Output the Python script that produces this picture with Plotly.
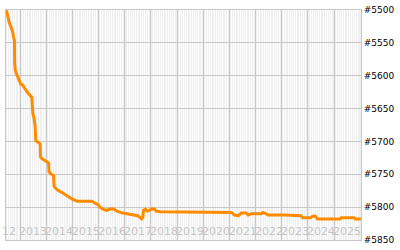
import plotly.graph_objects as go

dates = [
    "2012-06-16", "2012-07-07", "2012-07-28", "2012-08-24", "2012-09-14", "2012-09-28",
    "2012-10-12", "2012-10-15", "2012-10-23", "2012-11-13", "2012-12-09", "2012-12-27",
    "2013-01-10", "2013-02-03", "2013-03-04", "2013-04-03", "2013-05-11", "2013-06-12",
    "2013-06-26", "2013-07-09", "2013-07-27", "2013-07-30", "2013-08-06", "2013-09-16",
    "2013-10-07", "2013-10-10", "2013-10-28", "2013-11-24", "2014-01-18", "2014-02-01",
    "2014-02-08", "2014-02-28", "2014-04-11", "2014-04-18", "2014-05-08", "2014-06-19",
    "2014-08-13", "2014-10-21", "2014-12-01", "2014-12-29", "2015-03-08", "2015-10-01",
    "2015-11-11", "2015-12-22", "2016-01-19", "2016-02-29", "2016-04-24", "2016-06-05",
    "2016-07-30", "2016-09-10", "2016-12-02", "2017-02-10", "2017-04-20", "2017-06-28",
    "2017-07-25", "2017-08-22", "2017-09-11", "2017-09-18", "2017-10-16", "2017-11-12",
    "2017-12-10", "2018-01-07", "2018-02-17", "2018-03-16", "2018-04-27", "2019-10-31",
    "2021-01-30", "2021-03-11", "2021-05-05", "2021-06-16", "2021-08-24", "2021-09-21",
    "2021-11-01", "2022-03-19", "2022-04-16", "2022-05-27", "2022-06-24", "2023-02-14",
    "2023-09-22", "2023-10-20", "2024-02-08", "2024-03-06", "2024-04-16", "2024-05-14",
    "2025-03-28", "2025-04-11", "2025-10-08", "2025-10-22", "2026-01-12",
]
ranks = [
    5500, 5507, 5518, 5525, 5532, 5540,
    5547, 5581, 5592, 5598, 5605, 5610,
    5613, 5614, 5620, 5624, 5629, 5633,
    5658, 5663, 5676, 5698, 5699, 5702,
    5704, 5723, 5726, 5728, 5731, 5733,
    5746, 5749, 5752, 5768, 5771, 5775,
    5778, 5783, 5786, 5788, 5791, 5791,
    5794, 5796, 5800, 5803, 5805, 5803,
    5803, 5806, 5809, 5810, 5812, 5813,
    5815, 5818, 5815, 5805, 5803, 5806,
    5805, 5803, 5803, 5806, 5807, 5808,
    5808, 5812, 5813, 5809, 5809, 5812,
    5810, 5810, 5808, 5810, 5812, 5812,
    5813, 5816, 5816, 5814, 5814, 5818,
    5818, 5816, 5816, 5818, 5818,
]
year_labels = ["2013", "2014", "2015", "2016", "2017", "2018", "2019",
               "2020", "2021", "2022", "2023", "2024", "2025"]
rank_ticks = [5500, 5550, 5600, 5650, 5700, 5750, 5800, 5850]
rank_tick_text = ["#5500", "#5550", "#5600", "#5650", "#5700", "#5750", "#5800", "#5850"]
x_range = ["2012-06-16", "2026-01-12"]

GRID = "#c8c8c8"

fig = go.Figure()
fig.add_trace(go.Scatter(
    x=dates, y=ranks, mode="lines",
    line=dict(color="#ff8c00", width=3),
    hoverinfo="skip", showlegend=False,
))

annotations = []
for yl in year_labels:
    annotations.append(dict(
        x=f"{yl}-07-02", y=0, xref="x", yref="paper",
        xanchor="center", yanchor="bottom", showarrow=False,
        text=yl, font=dict(family="DejaVu Sans", size=11, color="#c4c4c4"),
    ))
annotations.append(dict(
    x=f"{year_labels[0]}-01-01", y=0, xref="x", yref="paper",
    xanchor="right", yanchor="bottom", showarrow=False, xshift=-2,
    text="12", font=dict(family="DejaVu Sans", size=11, color="#c4c4c4"),
))

fig.update_layout(
    width=400, height=250,
    margin=dict(l=5, r=36, t=5, b=6),
    paper_bgcolor="white", plot_bgcolor="#efefef",
    annotations=annotations,
    xaxis=dict(
        type="date", range=x_range,
        dtick="M12", tick0="2013-01-01",
        showticklabels=False, ticks="",
        showgrid=True, gridcolor=GRID, gridwidth=1,
        minor=dict(dtick="M1", tick0="2013-01-01", showgrid=True,
                   gridcolor="white", gridwidth=1),
        showline=True, linecolor=GRID, linewidth=1, mirror=True,
        zeroline=False, fixedrange=True,
    ),
    yaxis=dict(
        range=[5850, 5500], side="right",
        tickmode="array", tickvals=rank_ticks, ticktext=rank_tick_text,
        tickfont=dict(family="DejaVu Sans", size=9, color="black"),
        ticks="", showgrid=True, gridcolor=GRID, gridwidth=1,
        showline=True, linecolor=GRID, linewidth=1, mirror=True,
        zeroline=False, fixedrange=True,
    ),
)

fig.write_html("out.html")
